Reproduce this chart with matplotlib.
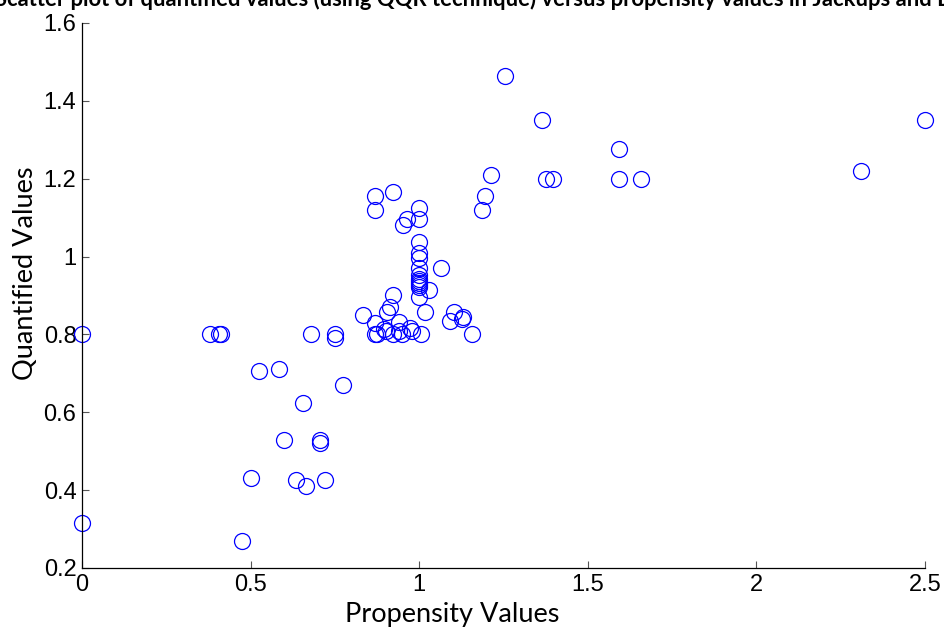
import matplotlib
matplotlib.use("Agg")
import matplotlib.pyplot as plt

# Propensity (x) vs quantified (y) values
propensity = [0.00, 0.00, 0.38, 0.406, 0.412, 0.475, 0.50, 0.525, 0.585, 0.60,
              0.635, 0.655, 0.665, 0.68, 0.705, 0.705, 0.722, 0.75, 0.75, 0.775,
              0.833, 0.869, 0.869, 0.869, 0.869, 0.875, 0.896, 0.903, 0.905, 0.913,
              0.922, 0.922, 0.94, 0.94, 0.95, 0.973, 0.98, 1.005, 1.017, 1.0,
              1.0, 1.0, 1.0, 1.0, 1.0, 1.0, 1.0, 1.0, 1.0, 1.0,
              1.0, 1.0, 1.065, 1.03, 0.952, 0.964, 0.922, 1.103, 1.091, 1.131,
              1.126, 1.156, 1.185, 1.195, 1.213, 1.255, 1.363, 1.375, 1.397, 1.592,
              1.592, 1.658, 2.31, 2.5]
quantified = [0.80, 0.315, 0.80, 0.80, 0.80, 0.27, 0.43, 0.705, 0.71, 0.53,
              0.425, 0.625, 0.41, 0.80, 0.53, 0.52, 0.425, 0.80, 0.79, 0.67,
              0.85, 1.155, 1.12, 0.83, 0.80, 0.80, 0.815, 0.808, 0.858, 0.87,
              0.90, 0.80, 0.833, 0.808, 0.80, 0.817, 0.81, 0.80, 0.858, 1.125,
              1.097, 1.037, 1.01, 0.997, 0.97, 0.953, 0.943, 0.938, 0.932, 0.927,
              0.922, 0.897, 0.97, 0.915, 1.08, 1.097, 1.166, 0.857, 0.834, 0.846,
              0.84, 0.80, 1.12, 1.155, 1.21, 1.465, 1.35, 1.20, 1.20, 1.275,
              1.20, 1.20, 1.22, 1.35]

x_ticks = [0, 0.5, 1, 1.5, 2, 2.5]
x_tick_labels = ["0", "0.5", "1", "1.5", "2", "2.5"]
y_ticks = [0.2, 0.4, 0.6, 0.8, 1.0, 1.2, 1.4, 1.6]
y_tick_labels = ["0.2", "0.4", "0.6", "0.8", "1", "1.2", "1.4", "1.6"]

fig = plt.figure(figsize=(9.45, 6.33), dpi=100)
ax = fig.add_axes([0.0868, 0.1027, 0.8920, 0.8610])

ax.plot(propensity, quantified, linestyle="none", marker="o", markersize=11.5,
        markerfacecolor="none", markeredgecolor="#0000ff", markeredgewidth=0.9,
        clip_on=False)

ax.set_xlim(0, 2.5)
ax.set_ylim(0.2, 1.6)
ax.set_xticks(x_ticks)
ax.set_xticklabels(x_tick_labels)
ax.set_yticks(y_ticks)
ax.set_yticklabels(y_tick_labels)
ax.tick_params(direction="in", length=5, width=0.8, color="#555555",
               labelsize=17, pad=4)
for lbl in ax.get_xticklabels() + ax.get_yticklabels():
    lbl.set_family("Liberation Sans")

ax.spines["top"].set_visible(False)
ax.spines["right"].set_visible(False)
ax.spines["left"].set_linewidth(0.9)
ax.spines["bottom"].set_linewidth(0.9)

ax.set_xlabel("Propensity Values", fontsize=19.5, family="Lato")
ax.set_ylabel("Quantified Values", fontsize=19.5, family="Lato")
ax.xaxis.set_label_coords(0.439, -0.062)
ax.yaxis.set_label_coords(-0.052, 0.54)

# title is clipped by the top edge in the original
fig.text(-0.005, 1 - 6.5 / 633, "Scatter plot of quantified values (using QQR technique) versus "
         "propensity values in Jackups and Barges",
         ha="left", va="baseline", fontsize=15.8, fontweight="bold", family="Lato")

fig.savefig("out.png", dpi=100)
